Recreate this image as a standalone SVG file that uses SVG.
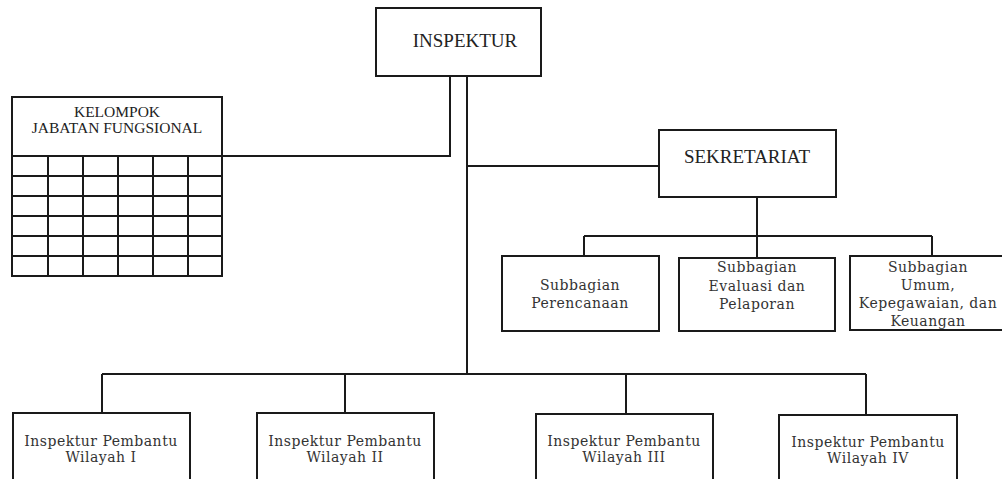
<svg xmlns="http://www.w3.org/2000/svg" width="1002" height="479" viewBox="0 0 1002 479">
<style>
.box{fill:#fff;stroke:#1a1a1a;stroke-width:2}
.ln{fill:none;stroke:#1a1a1a;stroke-width:2}
.t1{font-family:'Liberation Serif',Tinos,'Times New Roman',Times,serif;fill:#222;text-anchor:middle}
.t2{font-family:'DejaVu Serif',serif;font-size:14px;letter-spacing:0.5px;fill:#333;text-anchor:middle}
</style>
<rect width="1002" height="479" fill="#fff"/>
<g id="connectors">
<polyline class="ln" points="450,76 450,156 222,156"/>
<line class="ln" x1="467" y1="76" x2="467" y2="374"/>
<line class="ln" x1="467" y1="166" x2="659" y2="166"/>
<line class="ln" x1="102" y1="374" x2="866" y2="374"/>
<line class="ln" x1="102" y1="374" x2="102" y2="413"/>
<line class="ln" x1="345" y1="374" x2="345" y2="413"/>
<line class="ln" x1="626" y1="374" x2="626" y2="414"/>
<line class="ln" x1="866" y1="374" x2="866" y2="415"/>
<line class="ln" x1="757" y1="197" x2="757" y2="258"/>
<line class="ln" x1="584" y1="236" x2="932" y2="236"/>
<line class="ln" x1="584" y1="236" x2="584" y2="256"/>
<line class="ln" x1="932" y1="236" x2="932" y2="256"/>
</g>
<g id="inspektur">
<rect class="box" x="376" y="8" width="165" height="68"/>
<text class="t1" x="465" y="47" font-size="19" font-family="Liberation Serif">INSPEKTUR</text>
</g>
<g id="kelompok">
<rect class="box" x="12" y="97" width="210" height="179"/>
<text class="t1" x="117" y="117" font-size="15.5" font-family="Liberation Serif">KELOMPOK</text>
<text class="t1" x="117" y="133" font-size="15.5" font-family="Liberation Serif">JABATAN FUNGSIONAL</text>
<path class="ln" d="M12,156H222M12,176H222M12,196H222M12,216H222M12,236H222M12,256H222M48,156V276M83,156V276M118,156V276M153,156V276M188,156V276"/>
</g>
<g id="sekretariat">
<rect class="box" x="659" y="130" width="177" height="67"/>
<text class="t1" x="747" y="163" font-size="19" font-family="Liberation Serif">SEKRETARIAT</text>
</g>
<g id="sub-perencanaan">
<rect class="box" x="502" y="256" width="157" height="75"/>
<text class="t2" x="580" y="290">Subbagian</text>
<text class="t2" x="580" y="308">Perencanaan</text>
</g>
<g id="sub-evaluasi">
<rect class="box" x="679" y="258" width="156" height="73"/>
<text class="t2" x="757" y="272">Subbagian</text>
<text class="t2" x="757" y="291">Evaluasi dan</text>
<text class="t2" x="757" y="309">Pelaporan</text>
</g>
<g id="sub-umum">
<rect class="box" x="850" y="256" width="160" height="74"/>
<text class="t2" x="928" y="272">Subbagian</text>
<text class="t2" x="928" y="290">Umum,</text>
<text class="t2" x="928" y="308">Kepegawaian, dan</text>
<text class="t2" x="928" y="326">Keuangan</text>
</g>
<g id="ipw1">
<rect class="box" x="13" y="413" width="177" height="80"/>
<text class="t2" x="101" y="446">Inspektur Pembantu</text>
<text class="t2" x="101" y="462">Wilayah I</text>
</g>
<g id="ipw2">
<rect class="box" x="257" y="413" width="177" height="80"/>
<text class="t2" x="345" y="446">Inspektur Pembantu</text>
<text class="t2" x="345" y="462">Wilayah II</text>
</g>
<g id="ipw3">
<rect class="box" x="536" y="414" width="177" height="80"/>
<text class="t2" x="624" y="446">Inspektur Pembantu</text>
<text class="t2" x="624" y="462">Wilayah III</text>
</g>
<g id="ipw4">
<rect class="box" x="779" y="415" width="178" height="80"/>
<text class="t2" x="868" y="447">Inspektur Pembantu</text>
<text class="t2" x="868" y="463">Wilayah IV</text>
</g>
</svg>
